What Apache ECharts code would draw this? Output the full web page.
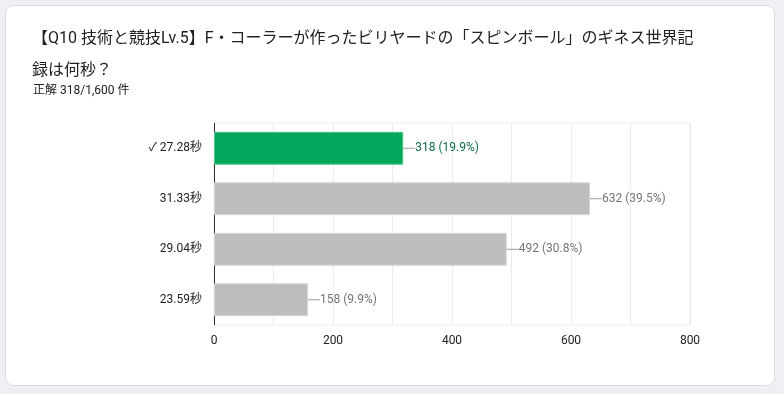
<!DOCTYPE html>
<html>
<head>
<meta charset="utf-8">
<script src="https://cdn.jsdelivr.net/npm/echarts@6/dist/echarts.min.js"></script>
<style>
  html, body { margin: 0; padding: 0; background: #eff0f4; }
  #chart { width: 784px; height: 394px; }
</style>
</head>
<body>
<div id="chart"></div>
<script>
// 回答の選択肢と件数
const categories = ['✓ 27.28秒', '31.33秒', '29.04秒', '23.59秒']
const counts = [318, 632, 492, 158]
const percents = [19.9, 39.5, 30.8, 9.9]
const correctIndex = 0
const xTicks = [0, 200, 400, 600, 800]

const font = 'Roboto, "Noto Sans CJK JP", sans-serif'
const myChart = echarts.init(document.getElementById('chart'))

const barData = counts.map((v, i) => {
  const ok = i === correctIndex
  return {
    value: v,
    itemStyle: {
      color: ok ? '#03a65a' : '#bdbdbd',
      borderColor: ok ? '#4cc48b' : '#d6d6d6',
      borderWidth: 1
    },
    label: {
      rich: {
        t: { color: ok ? '#0f6b45' : '#757575', fontSize: 12, fontFamily: font },
        l: { width: 12, height: 1, backgroundColor: '#9e9e9e' }
      }
    }
  }
})

myChart.setOption({
  backgroundColor: '#eff0f4',
  animation: false,
  graphic: [{
    type: 'rect',
    shape: { x: 5.5, y: 5.5, width: 769, height: 380, r: 8 },
    style: { fill: '#ffffff', stroke: '#dadce0', lineWidth: 1 },
    z: -10
  }],
  title: [{
    text: '【Q10 技術と競技Lv.5】F・コーラーが作ったビリヤードの「スピンボール」のギネス世界記\n録は何秒？',
    left: 27,
    top: 18,
    textStyle: { fontSize: 16, fontWeight: 'normal', color: '#202124', fontFamily: font, lineHeight: 32 }
  }, {
    text: '正解 318/1,600 件',
    left: 28,
    top: 80,
    textStyle: { fontSize: 12, fontWeight: 'normal', color: '#202124', fontFamily: font }
  }],
  grid: {
    left: 214,
    right: 94,
    top: 123,
    bottom: 69,
    show: true,
    borderColor: '#ebebeb',
    borderWidth: 1
  },
  xAxis: {
    type: 'value',
    min: xTicks[0],
    max: xTicks[xTicks.length - 1],
    interval: 100,
    axisLine: { show: false },
    axisTick: { show: false },
    splitLine: { lineStyle: { color: '#ebebeb' } },
    axisLabel: {
      margin: 10,
      color: '#222',
      fontSize: 12,
      fontFamily: font,
      formatter: v => xTicks.includes(v) ? String(v) : ''
    }
  },
  yAxis: {
    type: 'category',
    data: categories,
    inverse: true,
    axisLine: { lineStyle: { color: '#333', width: 1 } },
    axisTick: { show: false },
    axisLabel: { margin: 12, color: '#222', fontSize: 12, fontFamily: font }
  },
  series: [{
    type: 'bar',
    data: barData,
    barCategoryGap: '35%',
    label: {
      show: true,
      position: 'right',
      distance: 0,
      formatter: p => '{l|}{t|' + counts[p.dataIndex] + ' (' + percents[p.dataIndex] + '%)}'
    }
  }]
})
</script>
</body>
</html>
